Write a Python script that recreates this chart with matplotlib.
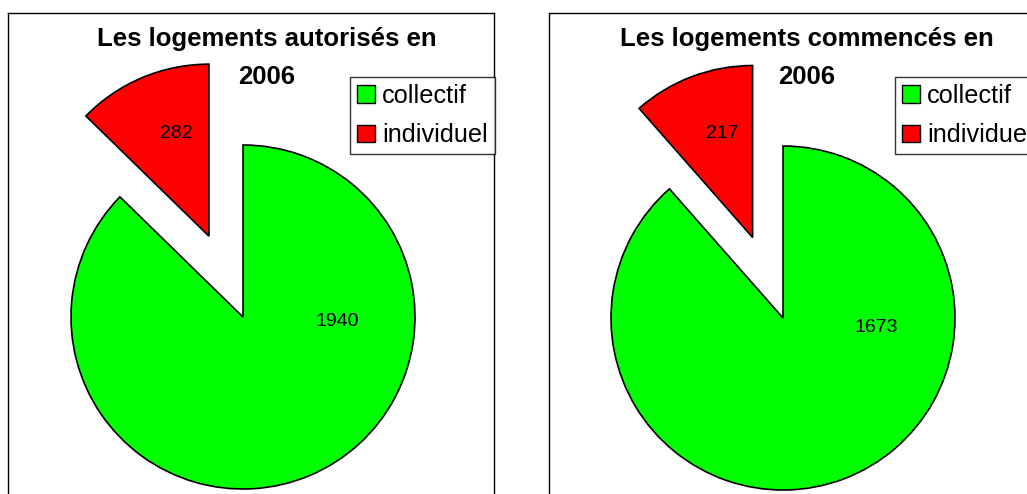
import matplotlib.pyplot as plt
from matplotlib.patches import Patch

plt.rcParams['font.family'] = ['Liberation Sans', 'DejaVu Sans']

categories = ['collectif', 'individuel']
autorises = [1940, 282]
commences = [1673, 217]
titles = [['Les logements autorisés en', '2006'],
          ['Les logements commencés en', '2006']]
colors = ['#00ff00', '#ff0000']

# label positions (pie radius units, relative to centre)
label_pos = [[(0.547, -0.029), (-0.39, 1.064)],
             [(0.54, -0.058), (-0.355, 1.07)]]
explodes = [[0, 0.51], [0, 0.50]]

W, H = 1027, 494
R = 172.0
# panel left px, centre offset x px, centre offset from top px, legend left px
panels = [(8, 235, 304, 350), (549, 234, 305, 895)]
pw, ph = 486, 481

fig = plt.figure(figsize=(W / 100, H / 100), dpi=100)

for i, values in enumerate([autorises, commences]):
    left, cx, cy, lgx = panels[i]
    ax = fig.add_axes([left / W, 0, pw / W, ph / H])
    ax.pie(values, colors=colors, startangle=90, counterclock=False,
           explode=explodes[i], radius=1, frame=True,
           wedgeprops=dict(edgecolor='black', linewidth=1.2))
    ax.set_aspect('auto')
    ax.set_xlim(-cx / R, (pw - cx) / R)
    ax.set_ylim(-(ph - cy) / R, cy / R)
    ax.set_xticks([])
    ax.set_yticks([])
    ax.spines['bottom'].set_visible(False)
    if i == 1:
        ax.spines['right'].set_visible(False)
    for s in ax.spines.values():
        s.set_linewidth(1.0)
    for v, (lx, ly) in zip(values, label_pos[i]):
        ax.text(lx, ly, str(v), ha='center', va='center', fontsize=14)
    # two-line title, one text per line
    for k, line in enumerate(titles[i]):
        ax.text((cx + 24) / pw, 1 - (26 + 38 * k) / ph, line, transform=ax.transAxes,
                ha='center', va='center', fontsize=18.5, fontweight='bold')
    handles = [Patch(facecolor=c, edgecolor='black', linewidth=1) for c in colors]
    leg = ax.legend(handles, categories, loc='upper left',
                    bbox_to_anchor=((lgx - left) / pw, 1 - 64 / ph),
                    fontsize=18.2, frameon=True, fancybox=False, shadow=False,
                    handlelength=0.7, handleheight=0.7, handletextpad=0.3,
                    borderpad=0.28, labelspacing=0.6, borderaxespad=0)
    leg.get_frame().set_edgecolor('black')
    leg.get_frame().set_linewidth(1)

fig.savefig('out.png', dpi=100)
